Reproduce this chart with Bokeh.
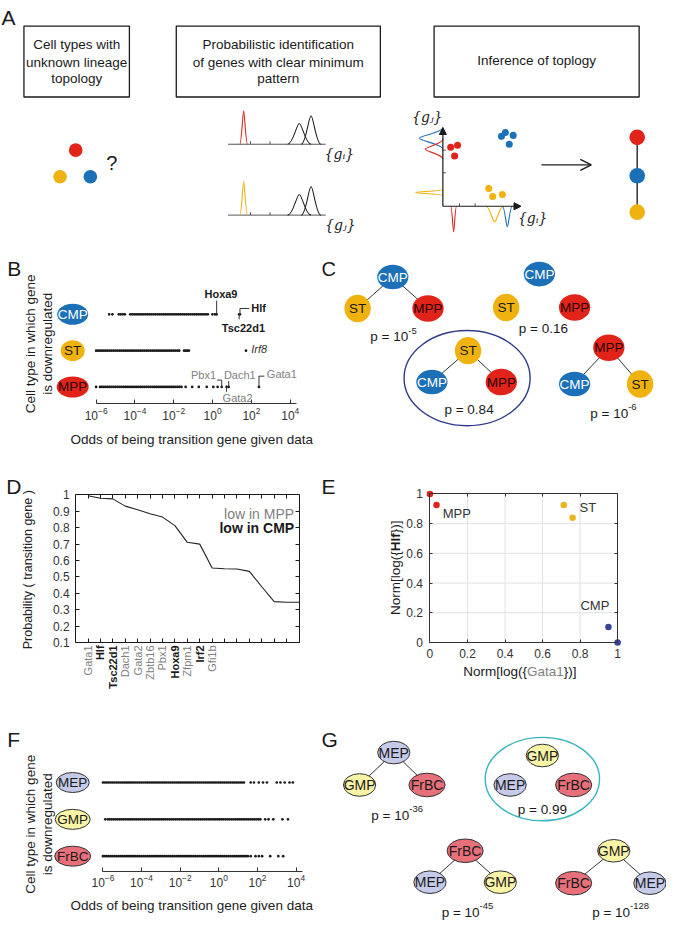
import math
from bokeh.plotting import figure
from bokeh.layouts import column, row
from bokeh.models import (Range1d, FixedTicker, LinearAxis, LogAxis, Arrow, OpenHead,
                          NormalHead, CustomJSTickFormatter)
from bokeh.core.properties import value
from bokeh.embed import file_html
from bokeh.resources import INLINE

FONT = "Liberation Sans"
SERIF = "DejaVu Serif"
INK = "#1a1a1a"
GRAY = "#808080"
RED = "#e2231a"
BLUE = "#1c70b8"
YELLOW = "#efb20f"
MEP_C = "#c4cae8"
GMP_C = "#faf4a6"
FRBC_C = "#e8707a"

# ---------------- data ----------------
# Panel B: log10 odds of being a transition gene (by cell type in which gene is downregulated)
b_cells = ["CMP", "ST", "MPP"]
b_cmp_log_odds = [-5.33, -5.16, -4.83, -4.73, -4.62, -4.52, -4.24, -4.14, -4.04, -3.94, -3.84,
                  -3.74, -3.64, -3.54, -3.44, -3.34, -3.24, -3.14, -3.04, -2.94, -2.84, -2.74,
                  -2.64, -2.54, -2.44, -2.34, -2.24, -2.14, -2.04, -1.94, -1.84, -1.74, -1.64,
                  -1.54, -1.44, -1.34, -1.24, -1.14, -1.04, -0.94, -0.84, -0.74, -0.64, -0.54,
                  -0.44, -0.34, -0.24, -0.01, 0.12]
b_st_log_odds = [-6.0, -5.9, -5.8, -5.7, -5.6, -5.5, -5.4, -5.3, -5.2, -5.1, -5.0, -4.9, -4.8,
                 -4.7, -4.6, -4.5, -4.4, -4.3, -4.2, -4.1, -4.0, -3.9, -3.8, -3.7, -3.6, -3.5,
                 -3.4, -3.3, -3.2, -3.1, -3.0, -2.9, -2.8, -2.7, -2.6, -2.5, -2.4, -2.3, -2.2,
                 -2.1, -2.0, -1.9, -1.8, -1.72, -1.47, -1.38, -1.30, -1.22]
b_mpp_log_odds = [-6.0, -5.8, -5.7, -5.6, -5.5, -5.4, -5.3, -5.2, -5.1, -5.0, -4.9, -4.8, -4.7,
                  -4.6, -4.5, -4.4, -4.3, -4.2, -4.1, -4.0, -3.9, -3.8, -3.7, -3.6, -3.5, -3.4,
                  -3.3, -3.2, -3.1, -3.0, -2.9, -2.8, -2.7, -2.6, -2.5, -2.4, -2.3, -2.2, -2.1,
                  -2.0, -1.9, -1.8, -1.7, -1.6, -1.39, -1.05, -0.71, -0.30, 0.04, 0.26]
b_cmp_genes = ["Hoxa9", "Tsc22d1", "Hlf"]
b_cmp_gene_log_odds = [0.21, 1.37, 1.41]
b_st_genes = ["Irf8"]
b_st_gene_log_odds = [1.72]
b_mpp_genes = ["Pbx1", "Gata2", "Dach1", "Gata1"]
b_mpp_gene_log_odds = [0.47, 0.72, 0.83, 2.39]
odds_tick_exponents = [-6, -4, -2, 0, 2, 4]

# Panel C: candidate topologies of CMP / ST / MPP
c_top = ["CMP", "CMP", "ST", "MPP"]
c_left = ["ST", "ST", "CMP", "CMP"]
c_right = ["MPP", "MPP", "MPP", "ST"]
c_linked = [True, False, True, True]
c_p_base = ["10", "0.16", "0.84", "10"]
c_p_exp = ["-5", "", "", "-6"]
c_best = 2

# Panel D: probability of being a transition gene
d_genes = ["Gata1", "Hlf", "Tsc22d1", "Dach1", "Gata2", "Zbtb16", "Pbx1", "Hoxa9", "Zfpm1",
           "Irf2", "Gfi1b"]
d_low_in_cmp = [False, True, True, False, False, False, False, True, False, True, False]
d_probability = [0.995, 0.98, 0.976, 0.932, 0.91, 0.885, 0.865, 0.813, 0.711, 0.70, 0.554,
                 0.55, 0.548, 0.534, 0.44, 0.349, 0.345, 0.345]
d_yticks = [0.1, 0.2, 0.3, 0.4, 0.5, 0.6, 0.7, 0.8, 0.9, 1.0]

# Panel E: normalised log expression
e_cell = ["MPP", "MPP", "ST", "ST", "CMP", "CMP"]
e_norm_gata1 = [0.0, 0.035, 0.713, 0.76, 0.951, 1.0]
e_norm_hlf = [1.0, 0.925, 0.925, 0.84, 0.104, 0.0]
e_ticks = [0.0, 0.2, 0.4, 0.6, 0.8, 1.0]

# Panel F
f_cells = ["MEP", "GMP", "FrBC"]
f_mep_log_odds = [-6.0, -5.9, -5.8, -5.7, -5.6, -5.5, -5.4, -5.3, -5.2, -5.1, -5.0, -4.9, -4.8,
                  -4.7, -4.6, -4.5, -4.4, -4.3, -4.2, -4.1, -4.0, -3.9, -3.8, -3.7, -3.6, -3.5,
                  -3.4, -3.3, -3.2, -3.1, -3.0, -2.9, -2.8, -2.7, -2.6, -2.5, -2.4, -2.3, -2.2,
                  -2.1, -2.0, -1.9, -1.8, -1.7, -1.6, -1.5, -1.4, -1.3, -1.2, -1.1, -1.0, -0.9,
                  -0.8, -0.7, -0.6, -0.5, -0.4, -0.3, -0.2, -0.1, 0.0, 0.1, 0.2, 0.3, 0.4, 0.5,
                  0.6, 0.7, 0.8, 0.9, 1.0, 1.1, 1.2, 1.3, 1.65, 1.82, 2.07, 2.29, 2.49, 3.0,
                  3.19, 3.41, 3.66, 3.83]
f_gmp_log_odds = [-5.88, -5.75, -5.65, -5.55, -5.45, -5.35, -5.25, -5.15, -5.05, -4.95, -4.85,
                  -4.75, -4.65, -4.55, -4.45, -4.35, -4.25, -4.15, -4.05, -3.95, -3.85, -3.75,
                  -3.65, -3.55, -3.45, -3.35, -3.25, -3.15, -3.05, -2.95, -2.85, -2.75, -2.65,
                  -2.55, -2.45, -2.35, -2.25, -2.15, -2.05, -1.95, -1.85, -1.75, -1.65, -1.55,
                  -1.45, -1.35, -1.25, -1.15, -1.05, -0.95, -0.85, -0.75, -0.65, -0.55, -0.45,
                  -0.35, -0.25, -0.15, -0.05, 0.05, 0.15, 0.25, 0.35, 0.45, 0.55, 0.65, 0.75,
                  0.85, 0.95, 1.05, 1.15, 1.25, 1.35, 1.45, 1.55, 1.65, 1.75, 1.85, 1.95, 2.05,
                  2.15, 2.4, 2.57, 2.82, 3.29, 3.58]
f_frbc_log_odds = [-6.0, -5.9, -5.8, -5.7, -5.6, -5.5, -5.4, -5.3, -5.2, -5.1, -5.0, -4.9, -4.8,
                   -4.7, -4.6, -4.5, -4.4, -4.3, -4.2, -4.1, -4.0, -3.9, -3.8, -3.7, -3.6, -3.5,
                   -3.4, -3.3, -3.2, -3.1, -3.0, -2.9, -2.8, -2.7, -2.6, -2.5, -2.4, -2.3, -2.2,
                   -2.1, -2.0, -1.9, -1.8, -1.7, -1.6, -1.5, -1.4, -1.3, -1.2, -1.1, -1.0, -0.9,
                   -0.8, -0.7, -0.6, -0.5, -0.4, -0.3, -0.2, -0.1, 0.0, 0.1, 0.2, 0.3, 0.4, 0.5,
                   0.6, 0.7, 0.8, 0.9, 1.0, 1.1, 1.2, 1.3, 1.4, 1.5, 1.65, 1.9, 2.07, 2.24,
                   2.66, 3.08, 3.33]

# Panel G: candidate topologies of MEP / GMP / FrBC
g_top = ["MEP", "GMP", "FrBC", "GMP"]
g_left = ["GMP", "MEP", "MEP", "FrBC"]
g_right = ["FrBC", "FrBC", "GMP", "MEP"]
g_linked = [True, False, True, True]
g_p_base = ["10", "0.99", "10", "10"]
g_p_exp = ["-36", "", "-45", "-128"]
g_best = 1

# ---------------- helpers ----------------
ARIAL = {' ': 278, '=': 584, 'p': 556, '.': 278, '-': 333, '(': 333, ')': 333, '[': 278,
         ']': 278, '{': 334, '}': 334, 'N': 722, 'o': 556, 'r': 333, 'm': 833, 'l': 222,
         'g': 556, 'G': 778, 'a': 556, 't': 278, 'H': 722, 'f': 278}
ARIAL_B = {'H': 722, 'l': 278, 'f': 333}
SX_L, SX_R, SY = 319 / 327.0, 347 / 355.0, 0.983


def tw(s, size, bold=False):
    tab = ARIAL_B if bold else ARIAL
    return sum(tab.get(ch, ARIAL.get(ch, 556)) for ch in s) / 1000.0 * size


def full_fig(w, h, xr, yr, log_x=False):
    p = figure(width=w, height=h, x_range=Range1d(*xr), y_range=Range1d(*yr),
               x_axis_type="log" if log_x else "linear",
               x_axis_location=None, y_axis_location=None, output_backend="svg",
               toolbar_location=None, min_border=0)
    p.grid.visible = False
    p.outline_line_color = None
    return p


def txt(p, x, y, s, size, color=INK, align="center", baseline="middle", style="normal",
        font=FONT, angle=0.0, line_height=1.2):
    p.text(x=[x], y=[y], text=[s], text_font=value(font), text_font_size=size,
           text_color=color, text_align=align, text_baseline=baseline,
           text_font_style=style, angle=angle, text_line_height=line_height)


def style_axis(ax, color=INK, tick_in=4, label_size="12px", standoff=3):
    ax.major_tick_in = tick_in
    ax.major_tick_out = 0
    ax.minor_tick_line_color = None
    ax.axis_line_color = color
    ax.major_tick_line_color = color
    ax.major_label_text_font = FONT
    ax.major_label_text_font_size = label_size
    ax.major_label_text_color = "#333333"
    ax.major_label_standoff = standoff


def bell_segments(c, base, h, w, orient):
    out = []
    for s in (-1, 1):
        if orient == "up":
            out.append((c + s * w, base, c, base - h, c + s * 0.53 * w, base, c + s * 0.23 * w, base - h))
        elif orient == "down":
            out.append((c + s * w, base, c, base + h, c + s * 0.53 * w, base, c + s * 0.23 * w, base + h))
        else:
            out.append((base, c + s * w, base - h, c, base, c + s * 0.53 * w, base - h, c + s * 0.23 * w))
    return out


def draw_bells(p, bells, color):
    segs = [s for b in bells for s in bell_segments(*b)]
    cols = [list(c) for c in zip(*segs)]
    p.bezier(x0=cols[0], y0=cols[1], x1=cols[2], y1=cols[3], cx0=cols[4], cy0=cols[5],
             cx1=cols[6], cy1=cols[7], line_color=color, line_width=1.1)


def draw_node(p, x, y, name, w, h, fill, tcolor, size, outline=None, units="data"):
    p.ellipse(x=[x], y=[y], width=[w], height=[h], fill_color=fill,
              line_color=outline if outline else None, line_width=1,
              width_units=units, height_units=units)
    txt(p, x, y, name, size, color=tcolor)


blank = CustomJSTickFormatter(code="return '';")

# ---------------- Panel A ----------------
pA = full_fig(666, 254, (0, 682), (258, 0))
txt(pA, 1, 17, "A", "21px", align="left")
pA.quad(left=[24, 180, 444], right=[132, 389, 654], top=[26, 26, 26], bottom=[98, 98, 98],
        fill_color=None, line_color=INK, line_width=1.3)
for cx, lines, ys in [(78, ["Cell types with", "unknown lineage", "topology"], [45, 62.5, 79.5]),
                      (284.5, ["Probabilistic identification", "of genes with clear minimum", "pattern"], [45, 62.5, 79.5]),
                      (549, ["Inference of toplogy"], [61])]:
    for s, y in zip(lines, ys):
        txt(pA, cx, y, s, "13.5px")
pA.circle(x=[77, 61, 92], y=[152, 179, 179], radius=7, fill_color=[RED, YELLOW, BLUE], line_color=None)
txt(pA, 114, 165, "?", "20px")
pA.segment(x0=[233, 233, 256, 276, 256, 276], y0=[146, 218, 146, 146, 218, 218],
           x1=[333, 333, 256, 276, 256, 276], y1=[146, 218, 143, 143, 215, 215],
           line_color="#555555", line_width=1)
draw_bells(pA, [(249, 146, 34, 4, "up")], RED)
draw_bells(pA, [(249, 218, 34, 4, "up")], YELLOW)
draw_bells(pA, [(306, 146, 21, 12, "up"), (318, 146, 29, 10, "up"),
                (306, 218, 21, 12, "up"), (318, 218, 29, 10, "up")], "#222222")
txt(pA, 347, 156, "{gᵢ}", "14px", font=SERIF, style="italic")
txt(pA, 348, 228, "{gⱼ}", "14px", font=SERIF, style="italic")
pA.add_layout(Arrow(end=NormalHead(size=7, fill_color=INK, line_color=INK), x_start=453, y_start=209,
                    x_end=453, y_end=129, line_color=INK, line_width=1.2))
pA.add_layout(Arrow(end=NormalHead(size=7, fill_color=INK, line_color=INK), x_start=453, y_start=209,
                    x_end=533, y_end=209, line_color=INK, line_width=1.2))
pA.segment(x0=[453, 453, 470, 486], y0=[175, 152, 209, 209], x1=[456, 456, 470, 486],
           y1=[175, 152, 206, 206], line_color="#555555", line_width=1)
draw_bells(pA, [(140, 453, 24, 11, "left"), (519, 209, 21, 5, "down")], BLUE)
draw_bells(pA, [(151, 453, 18, 10, "left"), (464, 209, 26, 3, "down")], RED)
draw_bells(pA, [(195, 453, 28, 3, "left"), (506, 209, 16, 9, "down")], YELLOW)
pA.circle(x=[461, 468, 465], y=[149, 147, 158], radius=3.6, fill_color=RED, line_color=None)
pA.circle(x=[517, 525, 521, 513], y=[134, 137, 146, 138], radius=3.6, fill_color=BLUE, line_color=None)
pA.circle(x=[500, 504, 514], y=[191, 199, 197], radius=3.6, fill_color=YELLOW, line_color=None)
txt(pA, 437, 118, "{gⱼ}", "14px", font=SERIF, style="italic")
txt(pA, 545, 221, "{gᵢ}", "14px", font=SERIF, style="italic")
pA.add_layout(Arrow(end=OpenHead(size=11, line_width=1.3, line_color=INK), x_start=554, y_start=167,
                    x_end=605, y_end=167, line_color=INK, line_width=1.3))
pA.segment(x0=[652], y0=[139], x1=[652], y1=[215], line_color="#333333", line_width=1.5)
pA.circle(x=[652, 652, 652], y=[139, 178, 215], radius=8, fill_color=[RED, BLUE, YELLOW], line_color=None)


# ---------------- odds panels (B, F) ----------------
def odds_fig(height, Y0, Y1, px0, ppd, axis_py, mid_py, row_step, label_py):
    def ox(px):
        return 10 ** (-6 + (px - px0) / ppd)

    def oy(py):
        return 2 + (mid_py - py) / row_step

    p = full_fig(319, height, (ox(0), ox(327)), (oy(Y1), oy(Y0)), log_x=True)
    ax = LogAxis(fixed_location=oy(axis_py), bounds=(1e-6, 10 ** 4.33),
                 ticker=FixedTicker(ticks=[10.0 ** e for e in odds_tick_exponents]))
    style_axis(ax, color="#333333", tick_in=4, label_size="12px", standoff=3)
    p.add_layout(ax, "below")
    txt(p, ox(196), oy(label_py), "Odds of being transition gene given data", "13.5px",
        color="#222222")
    return p, ox, oy


# Panel B
pB, bx, by = odds_fig(208, 258, 470, 98, 19.9, 410, 356, 37.0, 447)
b_rows = {"CMP": 3, "ST": 2, "MPP": 1}
txt(pB, bx(7), by(272), "B", "21px", align="left")
txt(pB, bx(39.5), by(349), "Cell type in which gene\nis downregulated", "13.5px",
    angle=math.pi / 2, line_height=1.1)
for name, w in [("CMP", 31), ("ST", 24), ("MPP", 32)]:
    fill = {"CMP": BLUE, "ST": YELLOW, "MPP": RED}[name]
    tcol = {"CMP": "white", "ST": INK, "MPP": "#2a0505"}[name]
    draw_node(pB, bx(74), b_rows[name], name, w, 21, fill, tcol, "13.5px", units="screen")
for name, vals, gvals in [("CMP", b_cmp_log_odds, b_cmp_gene_log_odds),
                          ("ST", b_st_log_odds, b_st_gene_log_odds),
                          ("MPP", b_mpp_log_odds, b_mpp_gene_log_odds)]:
    allv = vals + gvals
    pB.scatter(x=[10 ** v for v in allv], y=[b_rows[name]] * len(allv), size=2.7,
               marker="circle", color=INK, line_color=None)
gx = {g: 10 ** v for g, v in zip(b_cmp_genes + b_st_genes + b_mpp_genes,
                                   b_cmp_gene_log_odds + b_st_gene_log_odds + b_mpp_gene_log_odds)}
lx0, ly0, lx1, ly1 = [], [], [], []


def seg(x0, y0, x1, y1):
    lx0.append(x0); ly0.append(y0); lx1.append(x1); ly1.append(y1)


seg(gx["Hoxa9"], by(305), gx["Hoxa9"], by(318))
seg(gx["Hlf"], by(320), gx["Hlf"], by(313)); seg(gx["Hlf"], by(313), bx(255), by(313))
seg(gx["Tsc22d1"], by(319), gx["Tsc22d1"], by(324))
seg(bx(222), by(386), gx["Pbx1"], by(386)); seg(gx["Pbx1"], by(386), gx["Pbx1"], by(393))
seg(gx["Dach1"], by(387), gx["Dach1"], by(393))
seg(gx["Gata2"], by(393), gx["Gata2"], by(398))
seg(gx["Gata1"], by(393), gx["Gata1"], by(382)); seg(gx["Gata1"], by(382), bx(270.5), by(382))
pB.segment(x0=lx0, y0=ly0, x1=lx1, y1=ly1, line_color="#333333", line_width=1)
txt(pB, bx(226), by(298), "Hoxa9", "11px", style="bold")
txt(pB, bx(257), by(313), "Hlf", "11px", style="bold", align="left")
txt(pB, bx(249), by(333), "Tsc22d1", "11px", style="bold")
txt(pB, bx(257), by(354), "Irf8", "11px", style="italic", align="left", color="#333333")
txt(pB, bx(221), by(381), "Pbx1", "11px", align="right", color=GRAY)
txt(pB, bx(229), by(381), "Dach1", "11px", align="left", color=GRAY)
txt(pB, bx(243), by(404), "Gata2", "11px", color=GRAY)
txt(pB, bx(273), by(380), "Gata1", "11px", align="left", color=GRAY)

# Panel F
pF, fx, fy = odds_fig(221, 712, 937, 105, 19.8, 886, 833, 37.5, 921)
f_rows = {"MEP": 3, "GMP": 2, "FrBC": 1}
txt(pF, fx(7), fy(752), "F", "21px", align="left")
txt(pF, fx(39.5), fy(838), "Cell type in which gene\nis downregulated", "13.5px",
    angle=math.pi / 2, line_height=1.1)
for name, w, fill in [("MEP", 33, MEP_C), ("GMP", 35, GMP_C), ("FrBC", 36, FRBC_C)]:
    draw_node(pF, fx(74), f_rows[name], name, w, 20, fill, INK, "13.5px", outline="#333333",
              units="screen")
for name, vals in [("MEP", f_mep_log_odds), ("GMP", f_gmp_log_odds), ("FrBC", f_frbc_log_odds)]:
    pF.scatter(x=[10 ** v for v in vals], y=[f_rows[name]] * len(vals), size=2.7,
               marker="circle", color=INK, line_color=None)


# ---------------- tree panels (C, G) ----------------
def tree_panel(p, tops, lefts, rights, linked, pbase, pexp, best, top_pos, left_pos, right_pos,
               p_pos, dims, fills, tcolors, outline, font_size, best_ellipse, best_color):
    ex0, ey0, ex1, ey1 = [], [], [], []
    for i in range(4):
        if linked[i]:
            for pos in (left_pos[i], right_pos[i]):
                ex0.append(top_pos[i][0]); ey0.append(top_pos[i][1])
                ex1.append(pos[0]); ey1.append(pos[1])
    p.segment(x0=ex0, y0=ey0, x1=ex1, y1=ey1, line_color="#333333", line_width=1)
    for i in range(4):
        for name, pos in ((tops[i], top_pos[i]), (lefts[i], left_pos[i]), (rights[i], right_pos[i])):
            w, h = dims[name]
            draw_node(p, pos[0], pos[1], name, w, h, fills[name], tcolors[name], font_size, outline)
        x, y, align = p_pos[i]
        if pexp[i]:
            main = "p = " + pbase[i]
            txt(p, x, y, main, "13.5px", align="left")
            txt(p, x + tw(main, 13.5) / SX_R, y - 6.5, pexp[i], "9.5px", align="left")
        else:
            txt(p, x, y, "p = " + pbase[i], "13.5px", align=align)
    cx, cy, w, h = best_ellipse
    p.ellipse(x=[cx], y=[cy], width=[w], height=[h], fill_color=None, line_color=best_color,
              line_width=1.4)


pC = full_fig(347, 208, (327, 682), (470, 258))
txt(pC, 329, 273, "C", "20px", align="left")
tree_panel(pC, c_top, c_left, c_right, c_linked, c_p_base, c_p_exp, c_best,
           [(402, 281), (552, 278), (479, 356), (623, 353)],
           [(366, 313), (518, 312), (442, 388), (588, 390)],
           [(438, 313), (588, 312), (513, 388), (655, 390)],
           [(379, 342, "left"), (556, 333, "center"), (480, 416, "center"), (604, 420, "left")],
           {"CMP": (32, 25), "MPP": (32, 27), "ST": (27, 28)},
           {"CMP": BLUE, "MPP": RED, "ST": YELLOW},
           {"CMP": "white", "MPP": "#2a0505", "ST": INK},
           None, "13.5px", (478, 384, 129, 97), "#2e3a8c")

pG = full_fig(347, 221, (327, 682), (937, 712))
txt(pG, 329, 752, "G", "21px", align="left")
tree_panel(pG, g_top, g_left, g_right, g_linked, g_p_base, g_p_exp, g_best,
           [(403, 765), (555, 768), (476, 865), (628, 865)],
           [(368, 798), (522, 798), (440, 897), (587, 898)],
           [(437, 798), (587, 798), (512, 897), (665, 898)],
           [(380, 829, "left"), (555, 823, "center"), (452, 928, "left"), (606, 928, "left")],
           {"MEP": (33, 23), "GMP": (33, 23), "FrBC": (37, 24)},
           {"MEP": MEP_C, "GMP": GMP_C, "FrBC": FRBC_C},
           {"MEP": INK, "GMP": INK, "FrBC": INK},
           "#333333", "14px", (555, 792, 117, 85), "#38b5bd")


# ---------------- Panel D ----------------
def dx(px):
    return (px - 77) / 229.0 * 18


def dy(py):
    return 0.1 + (653 - py) / 150.0 * 0.9


pD = full_fig(319, 238, (dx(0), dx(327)), (dy(712), dy(470)))
xt = FixedTicker(ticks=list(range(1, 18)))
yt = FixedTicker(ticks=d_yticks)
axb = LinearAxis(fixed_location=0.1, bounds=(0, 18), ticker=xt, formatter=blank)
axl = LinearAxis(fixed_location=0, bounds=(0.1, 1.0), ticker=yt,
                 formatter=CustomJSTickFormatter(code="return tick > 0.99 ? '1' : tick.toFixed(1);"))
axt = LinearAxis(fixed_location=1.0, bounds=(0, 18), ticker=xt, formatter=blank)
axr = LinearAxis(fixed_location=18, bounds=(0.1, 1.0), ticker=yt, formatter=blank)
for ax in (axb, axl, axt, axr):
    style_axis(ax, color=INK, tick_in=4, label_size="12px", standoff=6)
pD.add_layout(axb, "below")
pD.add_layout(axl, "left")
pD.add_layout(axt, "above")
pD.add_layout(axr, "right")
pD.line(x=list(range(1, len(d_probability) + 1)), y=d_probability, line_color="#222222",
        line_width=1.1)
for i, (g, bold) in enumerate(zip(d_genes, d_low_in_cmp), start=1):
    txt(pD, i, dy(656), g, "11px", color=INK if bold else GRAY, align="right",
        style="bold" if bold else "normal", angle=math.pi / 2)
txt(pD, dx(301), dy(522), "low in MPP", "14px", color=GRAY, align="right")
txt(pD, dx(301), dy(537), "low in CMP", "14px", style="bold", align="right")
txt(pD, dx(28), dy(579), "Probability ( transition gene )", "12.5px", angle=math.pi / 2,
    color="#222222")
txt(pD, dx(6), dy(494), "D", "21px", align="left")


# ---------------- Panel E ----------------
def ex(px):
    return (px - 440) / 192.0


def ey(py):
    return (653 - py) / 151.0


pE = full_fig(347, 238, (ex(327), ex(682)), (ey(712), ey(470)))
et = FixedTicker(ticks=e_ticks)
efmt = CustomJSTickFormatter(code="return (tick < 0.01 || tick > 0.99) ? tick.toFixed(0) : tick.toFixed(1);")
gt = [t for t in e_ticks if 0 < t < 1]
pE.segment(x0=gt + [0] * len(gt), y0=[0] * len(gt) + gt, x1=gt + [1] * len(gt),
           y1=[1] * len(gt) + gt, line_color="#e2e2e2", line_width=1)
eb = LinearAxis(fixed_location=0, bounds=(0, 1), ticker=et, formatter=efmt)
el = LinearAxis(fixed_location=0, bounds=(0, 1), ticker=et, formatter=efmt)
etp = LinearAxis(fixed_location=1, bounds=(0, 1), ticker=et, formatter=blank)
er = LinearAxis(fixed_location=1, bounds=(0, 1), ticker=et, formatter=blank)
for ax in (eb, el, etp, er):
    style_axis(ax, color="#333333", tick_in=3, label_size="12px", standoff=7)
pE.add_layout(eb, "below")
pE.add_layout(el, "left")
pE.add_layout(etp, "above")
pE.add_layout(er, "right")
e_colors = {"MPP": RED, "ST": "#ebb31d", "CMP": "#35449a"}
pE.scatter(x=e_norm_gata1, y=e_norm_hlf, size=6.5, marker="circle",
           color=[e_colors[c] for c in e_cell], line_color=None)
txt(pE, 0.068, 0.868, "MPP", "13px", color="#333333", align="left")
txt(pE, 0.797, 0.907, "ST", "13px", color="#333333", align="left")
txt(pE, 0.802, 0.252, "CMP", "13px", color="#333333", align="left")
txt(pE, ex(329), ey(494), "E", "21px", align="left")
parts_x = [("Norm[log({", INK, "normal"), ("Gata1", GRAY, "normal"), ("})]", INK, "normal")]
W = sum(tw(s, 13.5, st == "bold") for s, _, st in parts_x) / SX_R
cur = 532 - W / 2
for s, col, st in parts_x:
    txt(pE, ex(cur), ey(683), s, "13.5px", color=col, style=st, align="left")
    cur += tw(s, 13.5, st == "bold") / SX_R
parts_y = [("Norm[log({", INK, "normal"), ("Hlf", INK, "bold"), ("})]", INK, "normal")]
W = sum(tw(s, 13.5, st == "bold") for s, _, st in parts_y) / SY
cur = 577 + W / 2
for s, col, st in parts_y:
    txt(pE, ex(405), ey(cur), s, "13.5px", color=col, style=st, align="left", angle=math.pi / 2)
    cur -= tw(s, 13.5, st == "bold") / SY

layout = column(pA, row(pB, pC), row(pD, pE), row(pF, pG))
open("out.html", "w").write(file_html(layout, INLINE))
